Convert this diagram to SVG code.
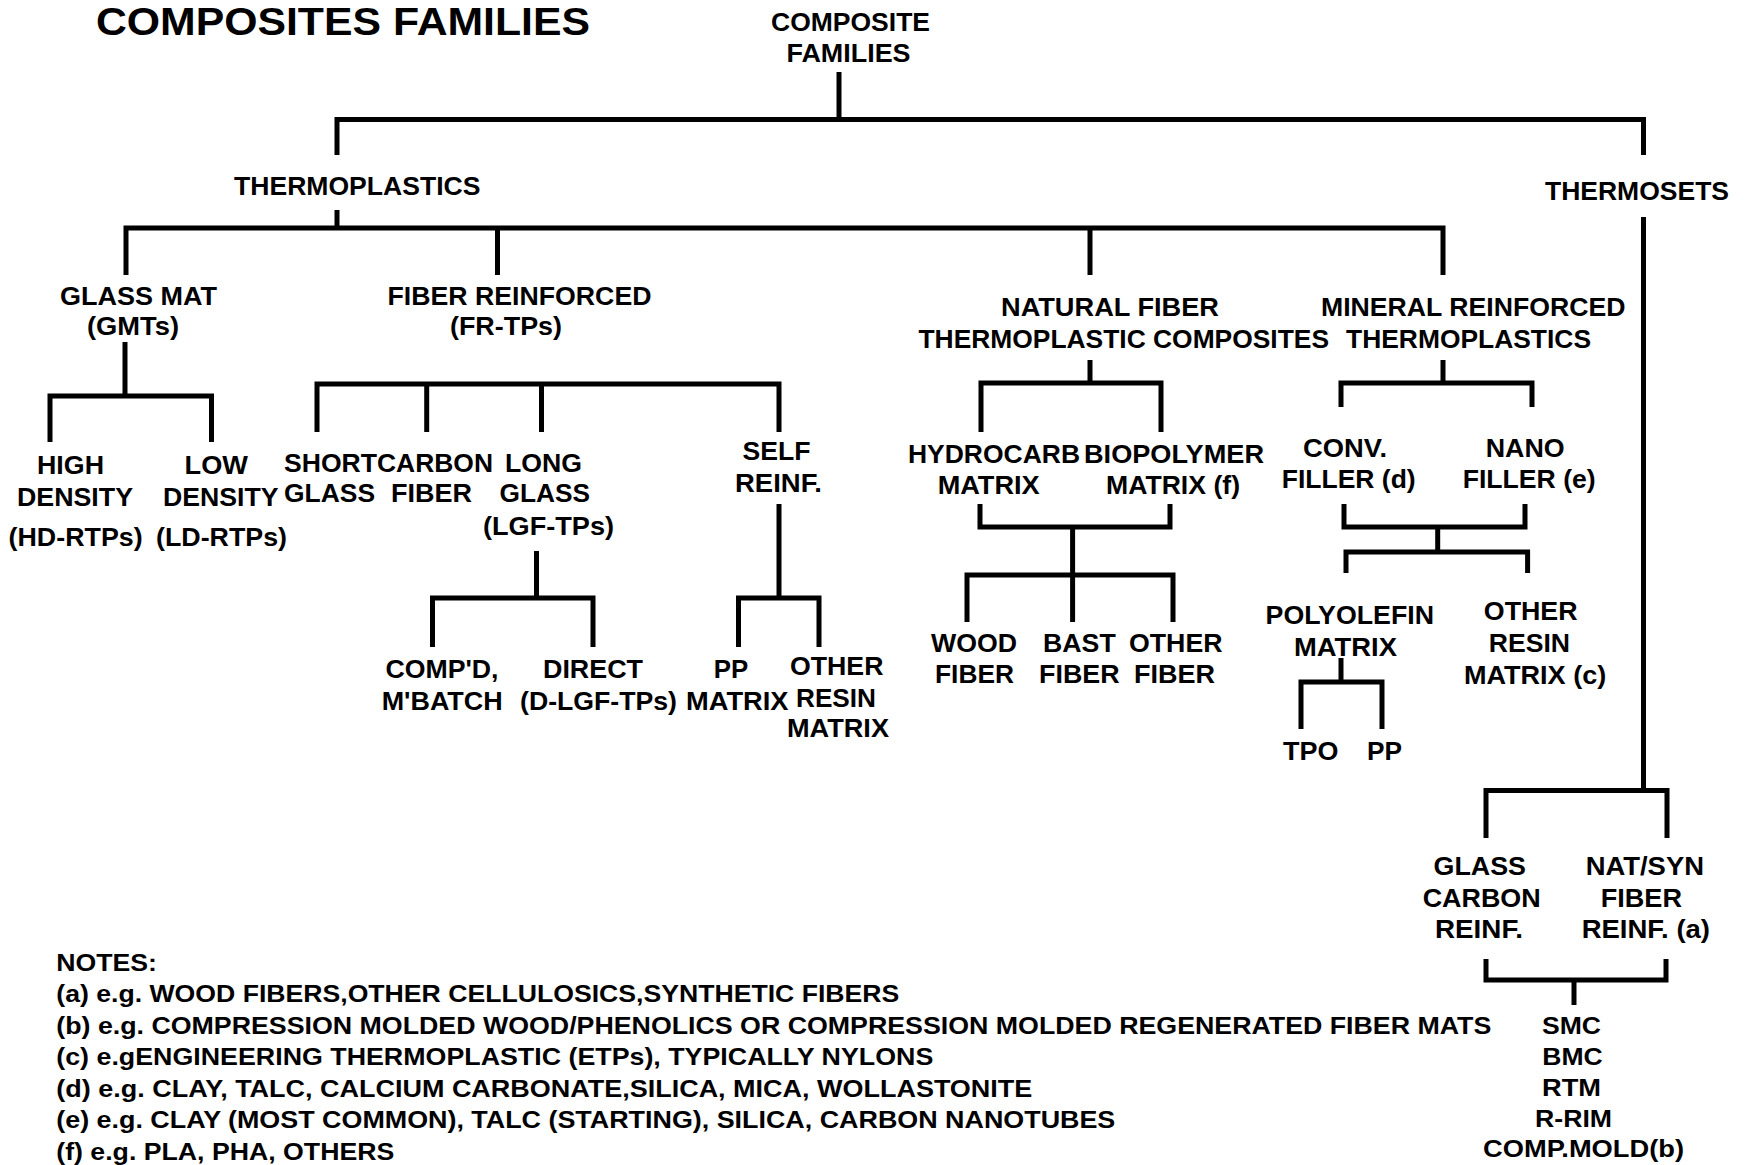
<svg xmlns="http://www.w3.org/2000/svg" width="1748" height="1165" viewBox="0 0 1748 1165">
<style>
text{font-family:"Liberation Sans",Arial,sans-serif;font-weight:bold;font-size:25.5px;fill:#000}
.t{font-size:38px}
.tp{font-size:26px}
.n{font-size:24px}
#connectors path{fill:none;stroke:#000;stroke-width:5;stroke-linejoin:miter;stroke-linecap:butt}
</style>
<rect width="1748" height="1165" fill="#fff"/>
<g id="connectors">
<path d="M839 72V119.5"/>
<path d="M337 155V119.5H1643.5V155"/>
<path d="M337 210V228"/>
<path d="M126 275V228H1443V275"/>
<path d="M497.5 228V275"/>
<path d="M1090 228V275"/>
<path d="M1643.5 217V790.5"/>
<path d="M1486 838V790.5H1667V838"/>
<path d="M1486 959V980H1666V959"/>
<path d="M1574 980V1005"/>
<path d="M125 342V396"/>
<path d="M50 442V396H211.5V442"/>
<path d="M317 432V384H779V432"/>
<path d="M426.7 384V432"/>
<path d="M541.5 384V432"/>
<path d="M1090 360V383"/>
<path d="M981 432V383H1161V432"/>
<path d="M980 504V527H1170V504"/>
<path d="M1072.6 527V622"/>
<path d="M967 622V575H1173V622"/>
<path d="M1443 360V383"/>
<path d="M1341 407V383H1532V407"/>
<path d="M1344 504V527H1525V504"/>
<path d="M1437.7 527V552"/>
<path d="M1346 573V552H1527.6V573"/>
<path d="M1341 658V682"/>
<path d="M1301 729V682H1382V729"/>
<path d="M536.5 551V598"/>
<path d="M432.5 647V598H593V647"/>
<path d="M779 504V598"/>
<path d="M738.5 647V598H819V647"/>
</g>
<g id="title"><text class="t" x="96" y="34.5" textLength="494" lengthAdjust="spacingAndGlyphs">COMPOSITES FAMILIES</text></g>
<g id="root">
<text x="771" y="31" textLength="159" lengthAdjust="spacingAndGlyphs">COMPOSITE</text>
<text x="786.5" y="62" textLength="124" lengthAdjust="spacingAndGlyphs">FAMILIES</text>
</g>
<g id="thermoplastics"><text class="tp" x="234" y="194.5" textLength="246.5" lengthAdjust="spacingAndGlyphs">THERMOPLASTICS</text></g>
<g id="thermosets"><text x="1545" y="200" textLength="184" lengthAdjust="spacingAndGlyphs">THERMOSETS</text></g>
<g id="glass-mat">
<text x="60" y="305" textLength="157" lengthAdjust="spacingAndGlyphs">GLASS MAT</text>
<text x="87" y="335" textLength="92" lengthAdjust="spacingAndGlyphs">(GMTs)</text>
</g>
<g id="fiber-reinforced">
<text x="387.5" y="305" textLength="264" lengthAdjust="spacingAndGlyphs">FIBER REINFORCED</text>
<text x="450" y="335" textLength="112" lengthAdjust="spacingAndGlyphs">(FR-TPs)</text>
</g>
<g id="natural-fiber">
<text x="1001" y="316" textLength="218" lengthAdjust="spacingAndGlyphs">NATURAL FIBER</text>
<text x="918.5" y="348" textLength="410.5" lengthAdjust="spacingAndGlyphs">THERMOPLASTIC COMPOSITES</text>
</g>
<g id="mineral-reinforced">
<text x="1321" y="316" textLength="304.5" lengthAdjust="spacingAndGlyphs">MINERAL REINFORCED</text>
<text x="1346" y="348" textLength="245" lengthAdjust="spacingAndGlyphs">THERMOPLASTICS</text>
</g>
<g id="high-density">
<text x="37" y="474" textLength="67" lengthAdjust="spacingAndGlyphs">HIGH</text>
<text x="17" y="505.5" textLength="116" lengthAdjust="spacingAndGlyphs">DENSITY</text>
<text x="8.6" y="546" textLength="134" lengthAdjust="spacingAndGlyphs">(HD-RTPs)</text>
</g>
<g id="low-density">
<text x="184.6" y="474" textLength="63.4" lengthAdjust="spacingAndGlyphs">LOW</text>
<text x="163" y="505.5" textLength="115.5" lengthAdjust="spacingAndGlyphs">DENSITY</text>
<text x="156" y="546" textLength="131" lengthAdjust="spacingAndGlyphs">(LD-RTPs)</text>
</g>
<g id="short-glass">
<text x="284" y="471.5" textLength="93" lengthAdjust="spacingAndGlyphs">SHORT</text>
<text x="284" y="502" textLength="91" lengthAdjust="spacingAndGlyphs">GLASS</text>
</g>
<g id="carbon-fiber">
<text x="377" y="471.5" textLength="116" lengthAdjust="spacingAndGlyphs">CARBON</text>
<text x="391" y="502" textLength="81" lengthAdjust="spacingAndGlyphs">FIBER</text>
</g>
<g id="long-glass">
<text x="505" y="471.5" textLength="77" lengthAdjust="spacingAndGlyphs">LONG</text>
<text x="499.5" y="502" textLength="90.5" lengthAdjust="spacingAndGlyphs">GLASS</text>
<text x="483" y="535" textLength="131" lengthAdjust="spacingAndGlyphs">(LGF-TPs)</text>
</g>
<g id="self-reinf">
<text x="742.5" y="460" textLength="68" lengthAdjust="spacingAndGlyphs">SELF</text>
<text x="735" y="491.5" textLength="87" lengthAdjust="spacingAndGlyphs">REINF.</text>
</g>
<g id="hydrocarb">
<text x="908" y="463" textLength="172" lengthAdjust="spacingAndGlyphs">HYDROCARB</text>
<text x="937.7" y="494" textLength="102" lengthAdjust="spacingAndGlyphs">MATRIX</text>
</g>
<g id="biopolymer">
<text x="1084" y="463" textLength="180" lengthAdjust="spacingAndGlyphs">BIOPOLYMER</text>
<text x="1106" y="494" textLength="134" lengthAdjust="spacingAndGlyphs">MATRIX (f)</text>
</g>
<g id="conv-filler">
<text x="1303" y="457" textLength="84" lengthAdjust="spacingAndGlyphs">CONV.</text>
<text x="1281.7" y="488" textLength="134" lengthAdjust="spacingAndGlyphs">FILLER (d)</text>
</g>
<g id="nano-filler">
<text x="1485.7" y="457" textLength="79" lengthAdjust="spacingAndGlyphs">NANO</text>
<text x="1462.7" y="488" textLength="133" lengthAdjust="spacingAndGlyphs">FILLER (e)</text>
</g>
<g id="compd-mbatch">
<text x="385.5" y="677.5" textLength="113" lengthAdjust="spacingAndGlyphs">COMP'D,</text>
<text x="381.7" y="710" textLength="121" lengthAdjust="spacingAndGlyphs">M'BATCH</text>
</g>
<g id="direct">
<text x="543" y="677.5" textLength="100" lengthAdjust="spacingAndGlyphs">DIRECT</text>
<text x="520" y="710" textLength="157" lengthAdjust="spacingAndGlyphs">(D-LGF-TPs)</text>
</g>
<g id="pp-matrix">
<text x="713.8" y="677.5" textLength="34.5" lengthAdjust="spacingAndGlyphs">PP</text>
<text x="686" y="710" textLength="102.5" lengthAdjust="spacingAndGlyphs">MATRIX</text>
</g>
<g id="other-resin-matrix">
<text x="790" y="675" textLength="93.4" lengthAdjust="spacingAndGlyphs">OTHER</text>
<text x="796" y="706.5" textLength="80" lengthAdjust="spacingAndGlyphs">RESIN</text>
<text x="787" y="736.5" textLength="102" lengthAdjust="spacingAndGlyphs">MATRIX</text>
</g>
<g id="wood-fiber">
<text x="931" y="651.5" textLength="86" lengthAdjust="spacingAndGlyphs">WOOD</text>
<text x="935" y="683" textLength="79" lengthAdjust="spacingAndGlyphs">FIBER</text>
</g>
<g id="bast-fiber">
<text x="1043" y="651.5" textLength="72.7" lengthAdjust="spacingAndGlyphs">BAST</text>
<text x="1039" y="683" textLength="80.6" lengthAdjust="spacingAndGlyphs">FIBER</text>
</g>
<g id="other-fiber">
<text x="1129" y="651.5" textLength="93.5" lengthAdjust="spacingAndGlyphs">OTHER</text>
<text x="1134" y="683" textLength="81" lengthAdjust="spacingAndGlyphs">FIBER</text>
</g>
<g id="polyolefin-matrix">
<text x="1265.6" y="624" textLength="168.4" lengthAdjust="spacingAndGlyphs">POLYOLEFIN</text>
<text x="1294" y="655.5" textLength="103" lengthAdjust="spacingAndGlyphs">MATRIX</text>
</g>
<g id="other-resin-matrix-c">
<text x="1483.8" y="620" textLength="93.8" lengthAdjust="spacingAndGlyphs">OTHER</text>
<text x="1488.7" y="651.5" textLength="81.3" lengthAdjust="spacingAndGlyphs">RESIN</text>
<text x="1463.9" y="684" textLength="142.4" lengthAdjust="spacingAndGlyphs">MATRIX (c)</text>
</g>
<g id="tpo"><text x="1283" y="760" textLength="55.4" lengthAdjust="spacingAndGlyphs">TPO</text></g>
<g id="pp"><text x="1367" y="760" textLength="35" lengthAdjust="spacingAndGlyphs">PP</text></g>
<g id="glass-carbon">
<text x="1433.6" y="875" textLength="92.4" lengthAdjust="spacingAndGlyphs">GLASS</text>
<text x="1422.7" y="906.5" textLength="118" lengthAdjust="spacingAndGlyphs">CARBON</text>
<text x="1435" y="938" textLength="88" lengthAdjust="spacingAndGlyphs">REINF.</text>
</g>
<g id="nat-syn">
<text x="1585.7" y="875" textLength="118.3" lengthAdjust="spacingAndGlyphs">NAT/SYN</text>
<text x="1600.7" y="906.5" textLength="81.3" lengthAdjust="spacingAndGlyphs">FIBER</text>
<text x="1581.7" y="938" textLength="128.3" lengthAdjust="spacingAndGlyphs">REINF. (a)</text>
</g>
<g id="processes">
<text class="n" x="1542" y="1034" textLength="59" lengthAdjust="spacingAndGlyphs">SMC</text>
<text class="n" x="1542.3" y="1064.5" textLength="60.4" lengthAdjust="spacingAndGlyphs">BMC</text>
<text class="n" x="1542" y="1095.5" textLength="59" lengthAdjust="spacingAndGlyphs">RTM</text>
<text class="n" x="1535" y="1127" textLength="77" lengthAdjust="spacingAndGlyphs">R-RIM</text>
<text class="n" x="1483" y="1157" textLength="201" lengthAdjust="spacingAndGlyphs">COMP.MOLD(b)</text>
</g>
<g id="notes">
<text class="n" x="56.3" y="970.5" textLength="100.7" lengthAdjust="spacingAndGlyphs">NOTES:</text>
<text class="n" x="56.3" y="1002" textLength="843" lengthAdjust="spacingAndGlyphs">(a) e.g. WOOD FIBERS,OTHER CELLULOSICS,SYNTHETIC FIBERS</text>
<text class="n" x="56.3" y="1033.5" textLength="1435" lengthAdjust="spacingAndGlyphs">(b) e.g. COMPRESSION MOLDED WOOD/PHENOLICS OR COMPRESSION MOLDED REGENERATED FIBER MATS</text>
<text class="n" x="56.3" y="1065" textLength="877" lengthAdjust="spacingAndGlyphs">(c) e.gENGINEERING THERMOPLASTIC (ETPs), TYPICALLY NYLONS</text>
<text class="n" x="56.3" y="1096.5" textLength="976" lengthAdjust="spacingAndGlyphs">(d) e.g. CLAY, TALC, CALCIUM CARBONATE,SILICA, MICA, WOLLASTONITE</text>
<text class="n" x="56.3" y="1128" textLength="1059" lengthAdjust="spacingAndGlyphs">(e) e.g. CLAY (MOST COMMON), TALC (STARTING), SILICA, CARBON NANOTUBES</text>
<text class="n" x="56.3" y="1159.5" textLength="338" lengthAdjust="spacingAndGlyphs">(f) e.g. PLA, PHA, OTHERS</text>
</g>
</svg>
